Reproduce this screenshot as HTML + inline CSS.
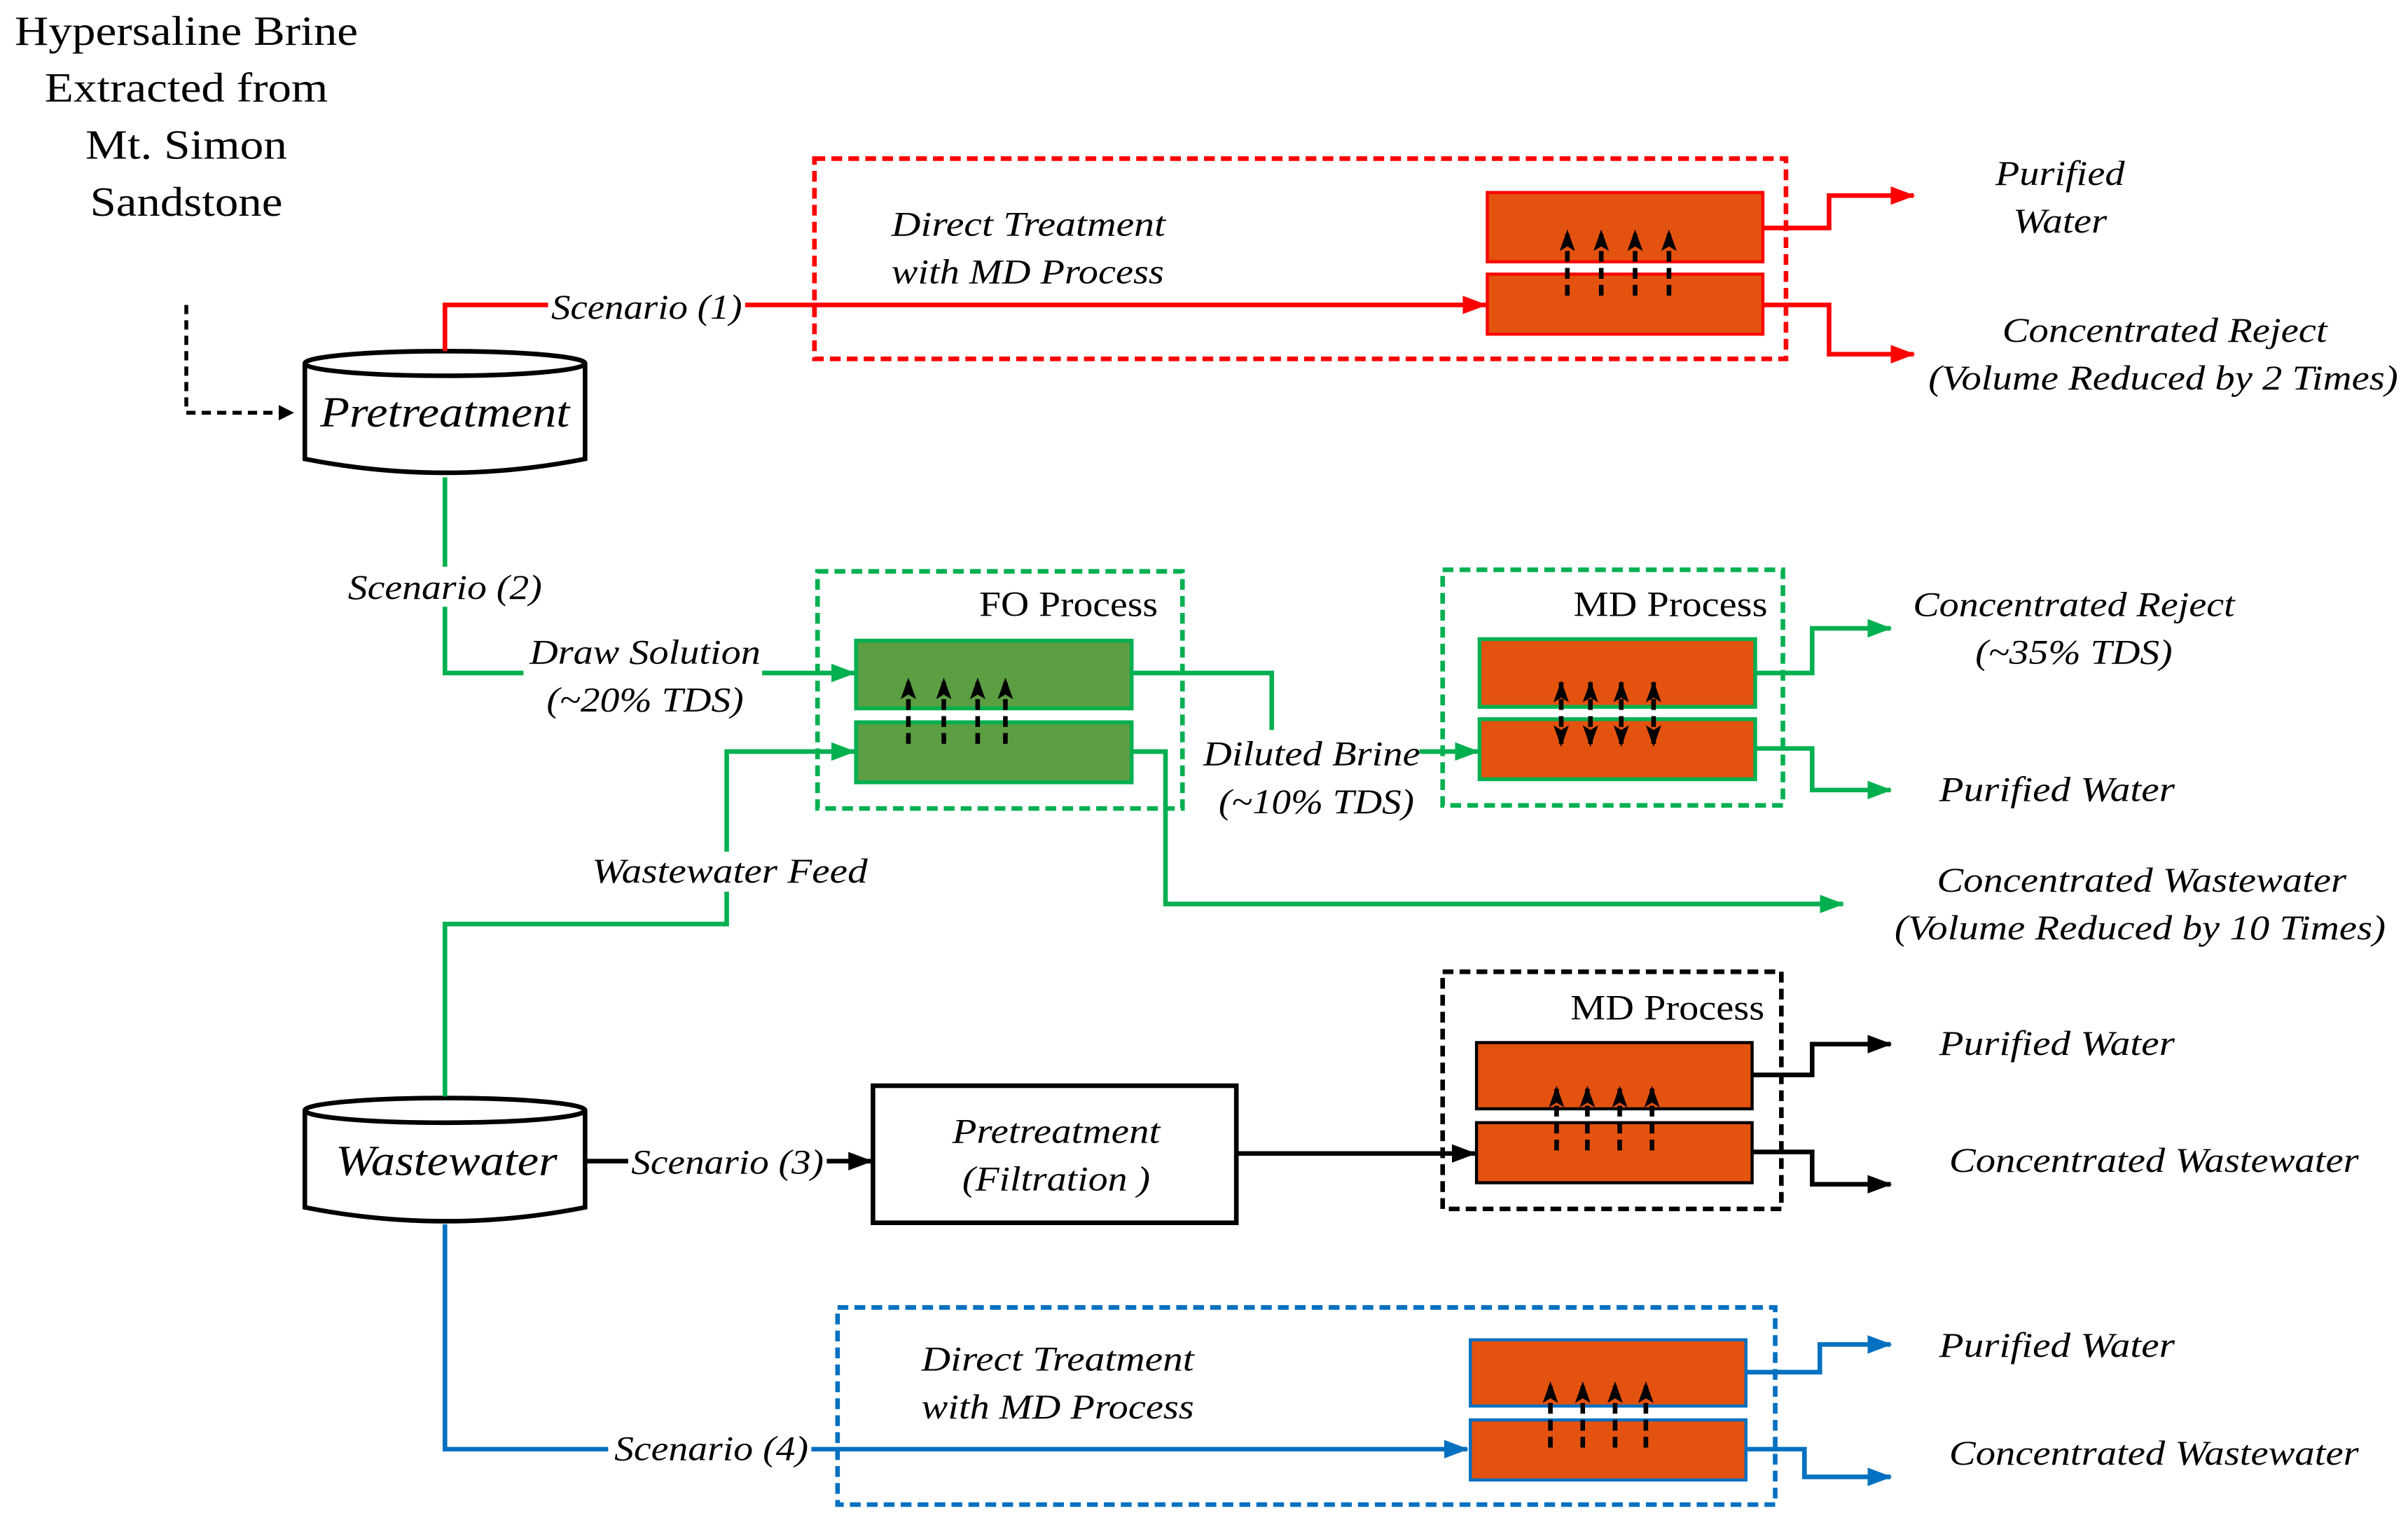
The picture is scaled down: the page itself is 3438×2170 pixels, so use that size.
<!DOCTYPE html>
<html><head><meta charset="utf-8"><style>
html,body{margin:0;padding:0;background:#fff;}
svg{display:block;font-family:"Liberation Serif","DejaVu Serif",serif;}
svg text{font-family:"Liberation Serif","DejaVu Serif",serif;}
.i{font-style:italic;font-size:22.5px;}
</style></head><body>
<svg width="3438" height="2170" viewBox="0 0 1564 987" preserveAspectRatio="none" xmlns="http://www.w3.org/2000/svg" font-family="Liberation Serif, DejaVu Serif, serif">
<defs>
<marker id="aK" markerWidth="10" markerHeight="10" refX="9" refY="5" orient="auto" markerUnits="userSpaceOnUse"><path d="M0,0 L10,5 L0,10 z" fill="#000"/></marker>
<marker id="aR" markerWidth="16" markerHeight="12" refX="15" refY="6" orient="auto" markerUnits="userSpaceOnUse"><path d="M0,0 L16,6 L0,12 z" fill="#f00"/></marker>
<marker id="aG" markerWidth="16" markerHeight="12" refX="15" refY="6" orient="auto" markerUnits="userSpaceOnUse"><path d="M0,0 L16,6 L0,12 z" fill="#00b050"/></marker>
<marker id="aB" markerWidth="16" markerHeight="12" refX="15" refY="6" orient="auto" markerUnits="userSpaceOnUse"><path d="M0,0 L16,6 L0,12 z" fill="#0070c0"/></marker>
<marker id="aKK" markerWidth="16" markerHeight="12" refX="15" refY="6" orient="auto" markerUnits="userSpaceOnUse"><path d="M0,0 L16,6 L0,12 z" fill="#000"/></marker>
<marker id="up" markerWidth="10" markerHeight="14" refX="5" refY="1" orient="0" markerUnits="userSpaceOnUse"><path d="M5,0 L10,14 L5,11 L0,14 z" fill="#000"/></marker>
<marker id="dn" markerWidth="10" markerHeight="14" refX="5" refY="13" orient="0" markerUnits="userSpaceOnUse"><path d="M5,14 L10,0 L5,3 L0,0 z" fill="#000"/></marker>
</defs>

<g font-size="27" text-anchor="middle" lengthAdjust="spacingAndGlyphs">
<text x="121" y="29" textLength="223" lengthAdjust="spacingAndGlyphs">Hypersaline Brine</text>
<text x="121" y="66" textLength="184" lengthAdjust="spacingAndGlyphs">Extracted from</text>
<text x="121" y="103" textLength="131" lengthAdjust="spacingAndGlyphs">Mt. Simon</text>
<text x="121" y="140" textLength="125" lengthAdjust="spacingAndGlyphs">Sandstone</text>
</g>
<path d="M121,198 V268 H190" fill="none" stroke="#000" stroke-width="2.5" stroke-dasharray="6,4" marker-end="url(#aK)"/>

<g fill="#fff" stroke="#000" stroke-width="3">
<path d="M198,236 V298 Q289,316 380,298 V236"/>
<ellipse cx="289" cy="236" rx="91" ry="8"/>
<path d="M198,721 V784 Q289,802 380,784 V721"/>
<ellipse cx="289" cy="721" rx="91" ry="8"/>
</g>
<text x="289" y="277" font-size="28" font-style="italic" text-anchor="middle" textLength="162" lengthAdjust="spacingAndGlyphs">Pretreatment</text>
<text x="290" y="763" font-size="28" font-style="italic" text-anchor="middle" textLength="144" lengthAdjust="spacingAndGlyphs">Wastewater</text>

<rect x="529" y="103" width="631" height="130" fill="none" stroke="#f00" stroke-width="3" stroke-dasharray="7,4"/>
<path d="M289,228 V198 H356" fill="none" stroke="#f00" stroke-width="3"/>
<path d="M484,198 H965" fill="none" stroke="#f00" stroke-width="3" marker-end="url(#aR)"/>
<text class="i" x="358" y="207" textLength="124" lengthAdjust="spacingAndGlyphs">Scenario (1)</text>
<text class="i" x="579" y="153" textLength="178" lengthAdjust="spacingAndGlyphs">Direct Treatment</text>
<text class="i" x="579" y="184" textLength="177" lengthAdjust="spacingAndGlyphs">with MD Process</text>
<g fill="#e4520f" stroke="#f00" stroke-width="2">
<rect x="966" y="125" width="179" height="45"/><rect x="966" y="178" width="179" height="39"/>
</g>
<path d="M1145,148 H1188 V127 H1243" fill="none" stroke="#f00" stroke-width="3" marker-end="url(#aR)"/>
<path d="M1145,198 H1188 V230 H1243" fill="none" stroke="#f00" stroke-width="3" marker-end="url(#aR)"/>
<g class="i" text-anchor="middle">
<text x="1338" y="120" textLength="84" lengthAdjust="spacingAndGlyphs">Purified</text><text x="1338" y="151" textLength="61" lengthAdjust="spacingAndGlyphs">Water</text>
<text x="1406" y="222" textLength="211" lengthAdjust="spacingAndGlyphs">Concentrated Reject</text><text x="1405" y="253" textLength="305" lengthAdjust="spacingAndGlyphs">(Volume Reduced by 2 Times)</text>
</g>

<path d="M289,310 V437 H555" fill="none" stroke="#00b050" stroke-width="3" marker-end="url(#aG)"/>
<path d="M289,712 V600 H472 V488 H555" fill="none" stroke="#00b050" stroke-width="3" marker-end="url(#aG)"/>
<rect x="224" y="368" width="130" height="26" fill="#fff"/>
<rect x="340" y="412" width="155" height="52" fill="#fff"/>
<rect x="382" y="553" width="184" height="26" fill="#fff"/>
<g class="i" text-anchor="middle">
<text x="289" y="389" textLength="126" lengthAdjust="spacingAndGlyphs">Scenario (2)</text>
<text x="419" y="431" textLength="150" lengthAdjust="spacingAndGlyphs">Draw Solution</text><text x="419" y="462" textLength="128" lengthAdjust="spacingAndGlyphs">(~20% TDS)</text>
<text x="474" y="573" textLength="179" lengthAdjust="spacingAndGlyphs">Wastewater Feed</text>
</g>
<rect x="531" y="371" width="237" height="154" fill="none" stroke="#00b050" stroke-width="3" stroke-dasharray="7,4"/>
<text x="752" y="400" font-size="23" text-anchor="end" textLength="116" lengthAdjust="spacingAndGlyphs">FO Process</text>
<g fill="#5c9e42" stroke="#00b050" stroke-width="2.5">
<rect x="556" y="416" width="179" height="44"/><rect x="556" y="469" width="179" height="39"/>
</g>
<path d="M735,437 H826 V474" fill="none" stroke="#00b050" stroke-width="3"/>
<path d="M922,488 H960" fill="none" stroke="#00b050" stroke-width="3" marker-end="url(#aG)"/>
<path d="M735,488 H757 V587 H1197" fill="none" stroke="#00b050" stroke-width="3" marker-end="url(#aG)"/>
<g class="i" text-anchor="middle">
<text x="852" y="497" textLength="141" lengthAdjust="spacingAndGlyphs">Diluted Brine</text><text x="855" y="528" textLength="127" lengthAdjust="spacingAndGlyphs">(~10% TDS)</text>
</g>
<rect x="937" y="370" width="221" height="153" fill="none" stroke="#00b050" stroke-width="3" stroke-dasharray="7,4"/>
<text x="1148" y="400" font-size="23" text-anchor="end" textLength="126" lengthAdjust="spacingAndGlyphs">MD Process</text>
<g fill="#e4520f" stroke="#00b050" stroke-width="2.5">
<rect x="961" y="415" width="179" height="44"/><rect x="961" y="467" width="179" height="39"/>
</g>
<path d="M1140,437 H1177 V408 H1228" fill="none" stroke="#00b050" stroke-width="3" marker-end="url(#aG)"/>
<path d="M1140,486 H1177 V513 H1228" fill="none" stroke="#00b050" stroke-width="3" marker-end="url(#aG)"/>
<g class="i" text-anchor="middle">
<text x="1347" y="400" textLength="209" lengthAdjust="spacingAndGlyphs">Concentrated Reject</text><text x="1347" y="431" textLength="128" lengthAdjust="spacingAndGlyphs">(~35% TDS)</text>
<text x="1336" y="520" textLength="153" lengthAdjust="spacingAndGlyphs">Purified Water</text>
<text x="1391" y="579" textLength="266" lengthAdjust="spacingAndGlyphs">Concentrated Wastewater</text><text x="1390" y="610" textLength="319" lengthAdjust="spacingAndGlyphs">(Volume Reduced by 10 Times)</text>
</g>

<path d="M380,754 H408" fill="none" stroke="#000" stroke-width="3"/>
<path d="M537,754 H566" fill="none" stroke="#000" stroke-width="3" marker-end="url(#aKK)"/>
<text class="i" x="410" y="762" textLength="125" lengthAdjust="spacingAndGlyphs">Scenario (3)</text>
<rect x="567" y="705" width="236" height="89" fill="#fff" stroke="#000" stroke-width="3"/>
<g class="i" text-anchor="middle"><text x="686" y="742" textLength="135" lengthAdjust="spacingAndGlyphs">Pretreatment</text><text x="686" y="773" textLength="122" lengthAdjust="spacingAndGlyphs">(Filtration )</text></g>
<path d="M803,749 H958" fill="none" stroke="#000" stroke-width="3" marker-end="url(#aKK)"/>
<rect x="937" y="631" width="220" height="154" fill="none" stroke="#000" stroke-width="3" stroke-dasharray="7,4"/>
<text x="1146" y="662" font-size="23" text-anchor="end" textLength="126" lengthAdjust="spacingAndGlyphs">MD Process</text>
<g fill="#e4520f" stroke="#000" stroke-width="2">
<rect x="959" y="677" width="179" height="43"/><rect x="959" y="729" width="179" height="39"/>
</g>
<path d="M1138,698 H1177 V678 H1228" fill="none" stroke="#000" stroke-width="3" marker-end="url(#aKK)"/>
<path d="M1138,748 H1177 V769 H1228" fill="none" stroke="#000" stroke-width="3" marker-end="url(#aKK)"/>
<g class="i" text-anchor="middle"><text x="1336" y="685" textLength="153" lengthAdjust="spacingAndGlyphs">Purified Water</text><text x="1399" y="761" textLength="266" lengthAdjust="spacingAndGlyphs">Concentrated Wastewater</text></g>

<path d="M289,795 V941 H395" fill="none" stroke="#0070c0" stroke-width="3"/>
<path d="M527,941 H953" fill="none" stroke="#0070c0" stroke-width="3" marker-end="url(#aB)"/>
<text class="i" x="399" y="948" textLength="126" lengthAdjust="spacingAndGlyphs">Scenario (4)</text>
<rect x="544" y="849" width="609" height="128" fill="none" stroke="#0070c0" stroke-width="3" stroke-dasharray="7,4"/>
<g class="i" text-anchor="middle"><text x="687" y="890" textLength="177" lengthAdjust="spacingAndGlyphs">Direct Treatment</text><text x="687" y="921" textLength="177" lengthAdjust="spacingAndGlyphs">with MD Process</text></g>
<g fill="#e4520f" stroke="#0070c0" stroke-width="2">
<rect x="955" y="870" width="179" height="43"/><rect x="955" y="922" width="179" height="39"/>
</g>
<path d="M1134,891 H1182 V873 H1228" fill="none" stroke="#0070c0" stroke-width="3" marker-end="url(#aB)"/>
<path d="M1134,941 H1172 V959 H1228" fill="none" stroke="#0070c0" stroke-width="3" marker-end="url(#aB)"/>
<g class="i" text-anchor="middle"><text x="1336" y="881" textLength="153" lengthAdjust="spacingAndGlyphs">Purified Water</text><text x="1399" y="951" textLength="266" lengthAdjust="spacingAndGlyphs">Concentrated Wastewater</text></g>

<g stroke="#000" stroke-width="3" stroke-dasharray="7,4" fill="none">
<path d="M1018,192 V150" marker-end="url(#up)"/><path d="M1040,192 V150" marker-end="url(#up)"/><path d="M1062,192 V150" marker-end="url(#up)"/><path d="M1084,192 V150" marker-end="url(#up)"/>
<path d="M590,483 V441" marker-end="url(#up)"/><path d="M613,483 V441" marker-end="url(#up)"/><path d="M635,483 V441" marker-end="url(#up)"/><path d="M653,483 V441" marker-end="url(#up)"/>
<path d="M1014,443 V484" marker-start="url(#up)" marker-end="url(#dn)"/><path d="M1033,443 V484" marker-start="url(#up)" marker-end="url(#dn)"/><path d="M1053,443 V484" marker-start="url(#up)" marker-end="url(#dn)"/><path d="M1074,443 V484" marker-start="url(#up)" marker-end="url(#dn)"/>
<path d="M1011,747 V706" marker-end="url(#up)"/><path d="M1031,747 V706" marker-end="url(#up)"/><path d="M1052,747 V706" marker-end="url(#up)"/><path d="M1073,747 V706" marker-end="url(#up)"/>
<path d="M1007,940 V898" marker-end="url(#up)"/><path d="M1028,940 V898" marker-end="url(#up)"/><path d="M1049,940 V898" marker-end="url(#up)"/><path d="M1069,940 V898" marker-end="url(#up)"/>
</g>
</svg>
</body></html>
